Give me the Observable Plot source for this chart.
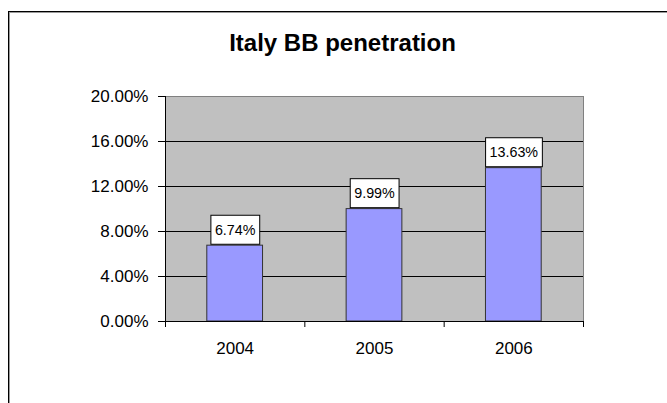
<!DOCTYPE html>
<html>
<head>
<meta charset="utf-8">
<script src="https://cdn.jsdelivr.net/npm/d3@7"></script>
<script src="https://cdn.jsdelivr.net/npm/@observablehq/plot@0.6"></script>
<style>
  html, body { margin: 0; padding: 0; background: #fff; overflow: hidden; }
  #wrap { position: relative; width: 667px; height: 403px; }
  #wrap svg { position: absolute; left: 0; top: 0; font-family: "Liberation Sans", Arial, sans-serif; }
  #border { position: absolute; left: 8px; top: 11px; width: 1000px; height: 1000px;
            border-left: 1px solid #000; border-top: 1px solid #000;
            box-shadow: inset 1px 1px 0 #9a9a9a; }
</style>
</head>
<body>
<div id="wrap"><div id="border"></div></div>
<script>
const title = "Italy BB penetration";
const years = ["2004", "2005", "2006"];
const penetration = [0.0674, 0.0999, 0.1363];
const valueLabels = ["6.74%", "9.99%", "13.63%"];
const yTicks = [0, 0.04, 0.08, 0.12, 0.16, 0.20];

const data = years.map((year, i) => ({year, i, value: penetration[i], label: valueLabels[i]}));

const plot = Plot.plot({
  width: 667,
  height: 403,
  marginLeft: 165,
  marginRight: 84,
  marginTop: 96,
  marginBottom: 82,
  style: {fontFamily: "'Liberation Sans', Arial, sans-serif", background: "transparent", color: "#000"},
  x: {domain: [0, years.length]},
  y: {domain: [0, 0.2]},
  marks: [
    Plot.frame({fill: "#c0c0c0", stroke: "#808080"}),
    Plot.ruleY(yTicks.slice(1, -1), {stroke: "#000", strokeWidth: 1}),
    Plot.rect(data, {x1: d => d.i + 0.3, x2: d => d.i + 0.7, y1: 0, y2: "value",
      fill: "#9999ff", stroke: "#333", strokeWidth: 1}),
    Plot.ruleY([0], {stroke: "#000"}),
    Plot.ruleX([0], {stroke: "#000"}),
    Plot.axisY({ticks: yTicks, tickFormat: d => (d * 100).toFixed(2) + "%",
      tickSize: 7, tickPadding: 10, fontSize: 17, label: null, stroke: "#000"}),
    Plot.axisX({ticks: [0, 1, 2, 3], tickSize: 6, tickFormat: () => "", label: null}),
    Plot.axisX({ticks: years.map((y, i) => i + 0.5), tickSize: 0, tickPadding: 20,
      tickFormat: d => years[Math.floor(d)], fontSize: 17, label: null}),
    Plot.text(data, {x: d => d.i + 0.5, y: "value", text: "label", dy: -15.5,
      fontSize: 14.3, fill: "#000"}),
    Plot.text([title], {frameAnchor: "top", text: d => d, dx: -32, dy: -46,
      lineAnchor: "bottom", fontSize: 24, fontWeight: "bold", fill: "#000"})
  ]
});

document.getElementById("wrap").appendChild(plot);

// white boxes behind value labels
plot.querySelectorAll("text").forEach(t => {
  if (!valueLabels.includes(t.textContent)) return;
  const b = t.getBBox();
  const r = document.createElementNS("http://www.w3.org/2000/svg", "rect");
  const cy = b.y + b.height / 2;
  r.setAttribute("x", b.x - 4);
  r.setAttribute("y", cy - 14.5);
  r.setAttribute("width", b.width + 8);
  r.setAttribute("height", 29);
  r.setAttribute("fill", "#fff");
  r.setAttribute("stroke", "#000");
  r.setAttribute("stroke-width", 1);
  if (t.hasAttribute("transform")) r.setAttribute("transform", t.getAttribute("transform"));
  t.parentNode.insertBefore(r, t);
});
</script>
</body>
</html>
